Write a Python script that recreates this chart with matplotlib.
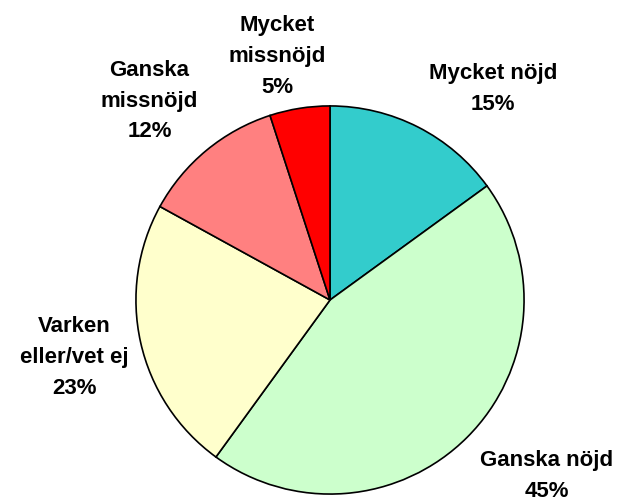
import matplotlib
matplotlib.use("Agg")
import matplotlib.pyplot as plt

labels = ["Mycket nöjd", "Ganska nöjd", "Varken\neller/vet ej", "Ganska\nmissnöjd", "Mycket\nmissnöjd"]
shares = [15, 45, 23, 12, 5]
colors = ["#33CCCC", "#CCFFCC", "#FFFFCC", "#FF8080", "#FF0000"]

# label centres, in units of the pie radius
label_pos = [(0.84, 1.087), (1.117, -0.908), (-1.316, -0.296), (-0.93, 1.025), (-0.273, 1.255)]

plt.rcParams["font.family"] = ["Liberation Sans", "DejaVu Sans"]

W, H = 622, 504
cx, cy, R = 330, 300, 196
fig = plt.figure(figsize=(W / 100, H / 100), dpi=100)
ax = fig.add_axes([(cx - R) / W, (H - cy - R) / H, 2 * R / W, 2 * R / H])

ax.pie(shares, colors=colors, startangle=90, counterclock=False, radius=1,
       wedgeprops=dict(edgecolor="black", linewidth=1.2))
ax.set_xlim(-1.01, 1.01)
ax.set_ylim(-1.01, 1.01)
ax.set_aspect("equal")
ax.axis("off")

for lab, val, (x, y) in zip(labels, shares, label_pos):
    ax.text(x, y, f"{lab}\n{val}%", ha="center", va="center", fontsize=16,
            fontweight="bold", linespacing=1.6, clip_on=False)

fig.savefig("out.png", dpi=100)
